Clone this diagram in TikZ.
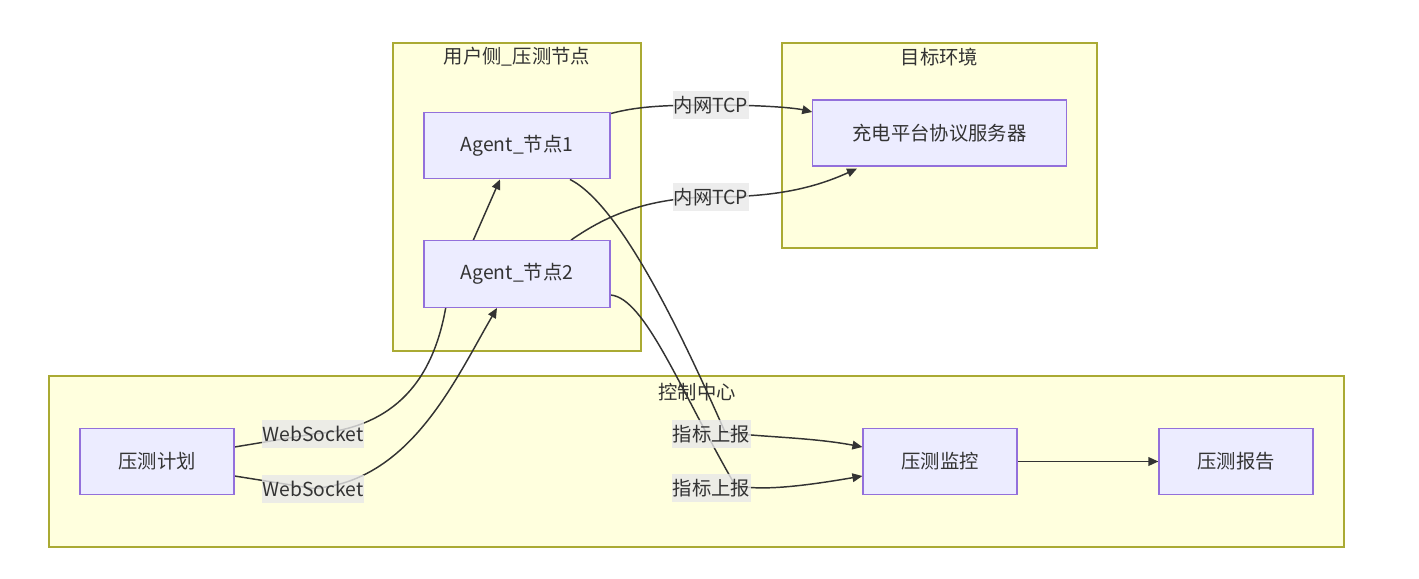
\documentclass[tikz,border=0pt]{standalone}
\usepackage{fontspec}
\setmainfont{Noto Sans CJK SC}
\usepackage{xcolor}
\usetikzlibrary{arrows.meta}
\definecolor{clusterFill}{HTML}{FFFFDE}
\definecolor{clusterLine}{HTML}{AAAA33}
\definecolor{boxFill}{HTML}{ECECFF}
\definecolor{boxLine}{HTML}{9370DB}
\definecolor{labelFill}{HTML}{E8E8E8}
\definecolor{inkDark}{HTML}{333333}
\pgfdeclarelayer{clusterLayer}
\pgfdeclarelayer{edgeLayer}
\pgfsetlayers{clusterLayer,edgeLayer,main}

\begin{document}
\begin{tikzpicture}[
  x=0.75pt, y=-0.75pt,
  font=\fontsize{14.5}{17}\selectfont,
  text=inkDark,
  >={Triangle[length=7.5pt,width=6.5pt]},
  cluster/.style={
    draw=clusterLine,
    fill=clusterFill,
    line width=0.9pt,
    inner sep=0pt
  },
  cluster title/.style={inner sep=0pt},
  box/.style={
    draw=boxLine,
    fill=boxFill,
    line width=0.9pt,
    inner sep=0pt,
    minimum height=50pt
  },
  agent box/.style={box, minimum width=139.5pt},
  stage box/.style={box, minimum width=115.5pt},
  edge/.style={
    ->,
    draw=inkDark,
    line width=1.1pt
  },
  edge label/.style={
    fill=labelFill,
    fill opacity=0.8,
    text opacity=1,
    inner xsep=0.5pt,
    inner ysep=0pt,
    minimum height=21pt
  }
]
\useasboundingbox (0,0) rectangle (1419,578);

% Subgraph frames and their titles
\begin{pgfonlayer}{clusterLayer}
  \node[cluster, minimum width=186pt, minimum height=231pt] (userCluster) at (517,197) {};
  \node[cluster, minimum width=236.25pt, minimum height=153.75pt] (targetCluster) at (939.5,145.5) {};
  \node[cluster, minimum width=971.25pt, minimum height=128.25pt] (controlCluster) at (696.5,461.5) {};
  \node[cluster title] (userTitle) at (517,57) {用户侧\_压测节点};
  \node[cluster title] (targetTitle) at (939.5,57) {目标环境};
  \node[cluster title] (controlTitle) at (697,392) {控制中心};
\end{pgfonlayer}

% Nodes
\node[agent box] (agentOne) at (517,145.5) {Agent\_节点1};
\node[agent box] (agentTwo) at (517,274) {Agent\_节点2};
\node[box, minimum width=190pt, minimum height=49.5pt] (server) at (939.5,133) {充电平台协议服务器};
\node[stage box] (plan) at (157,461.5) {压测计划};
\node[stage box] (monitor) at (940,461.5) {压测监控};
\node[stage box] (report) at (1236,461.5) {压测报告};

% Label anchors
\coordinate (wsUpper) at (313,434);
\coordinate (wsLower) at (313,488.5);
\coordinate (tcpUpper) at (711,105);
\coordinate (tcpLower) at (711,197);
\coordinate (reportUpper) at (711.5,434);
\coordinate (reportLower) at (711.5,488);

% Connectors, kept under the nodes
\begin{pgfonlayer}{edgeLayer}
  \draw[edge] ([yshift=10.875pt]plan.east) -- (wsUpper)
    .. controls (395,428) and (435,380) .. (447,300) -- ([xshift=-12.75pt]agentOne.south);
  \draw[edge] ([yshift=-10.875pt]plan.east) -- (wsLower)
    .. controls (410,482) and (455,380) .. ([xshift=-15pt]agentTwo.south);
  \draw[edge] ([yshift=-1.5pt]agentOne.north east)
    .. controls (635,107) and (660,105) .. (tcpUpper)
    .. controls (765,105) and (795,108) .. ([yshift=15.75pt]server.west);
  \draw[edge] ([xshift=40.5pt]agentTwo.north)
    .. controls (600,220) and (640,198) .. (tcpLower)
    .. controls (770,197) and (810,190) .. ([xshift=-61.875pt, yshift=-1.5pt]server.south);
  \draw[edge] ([xshift=39.75pt]agentOne.south)
    .. controls (620,205) and (680,330) .. (725,432)
    .. controls (755,437) and (810,437) .. ([yshift=10.875pt]monitor.west);
  \draw[edge] ([yshift=-15.75pt]agentTwo.east)
    .. controls (645,298) and (680,390) .. (735,485)
    .. controls (760,492) and (810,485) .. ([yshift=-10.875pt]monitor.west);
  \draw[edge] (monitor) -- (report);
\end{pgfonlayer}

% Edge labels
\node[edge label] at (wsUpper) {WebSocket};
\node[edge label] at (wsLower) {WebSocket};
\node[edge label] at (tcpUpper) {内网TCP};
\node[edge label] at (tcpLower) {内网TCP};
\node[edge label] at (reportUpper) {指标上报};
\node[edge label] at (reportLower) {指标上报};

\end{tikzpicture}
\end{document}
